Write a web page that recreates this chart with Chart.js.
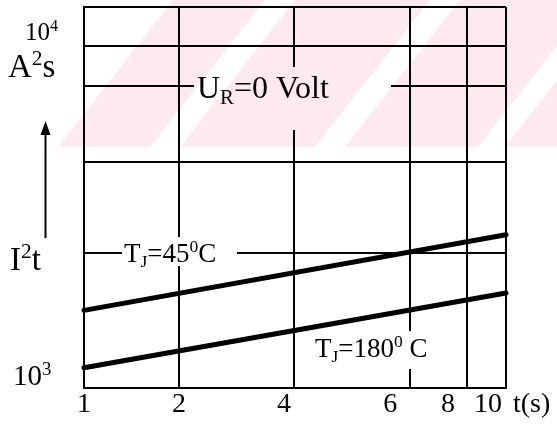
<!DOCTYPE html>
<html>
<head>
<meta charset="utf-8">
<script src="https://cdn.jsdelivr.net/npm/chart.js@4/dist/chart.umd.min.js"></script>
<style>
  html, body { margin: 0; padding: 0; background: #fff; }
  #wrap { width: 557px; height: 430px; }
</style>
</head>
<body>
<div id="wrap"><canvas id="i2tChart" width="557" height="430"></canvas></div>
<script>
// time axis (s) and I²t values (A²s)
const tValues = [1, 10];
const i2tTj45 = [1490, 2300];
const i2tTj180 = [1110, 1630];

// grid lines on both axes
const tTicks = [1, 2, 4, 6, 8, 10];
const i2tTicks = [1000, 2000, 4000, 6000, 8000, 10000];
const tLabels = ['1', '2', '4', '6', '8', '10'];

const SERIF = '"Liberation Serif", "Times New Roman", serif';

// scale whose grid divisions sit at hand-set fractions of the axis,
// log-interpolated between them (the printed sheet is not a true log grid)
class KnotScale extends Chart.LinearScale {
  buildTicks() {
    return this.options.knots.map(v => ({ value: v }));
  }
  _frac(v) {
    const k = this.options.knots, f = this.options.stops;
    let i = 0;
    while (i < k.length - 2 && v > k[i + 1]) i++;
    const t = (Math.log(v) - Math.log(k[i])) / (Math.log(k[i + 1]) - Math.log(k[i]));
    return f[i] + t * (f[i + 1] - f[i]);
  }
  getPixelForValue(v) {
    return v === null ? NaN : this.getPixelForDecimal(this._frac(v));
  }
  getValueForPixel(p) {
    const d = this.getDecimalForPixel(p);
    const k = this.options.knots, f = this.options.stops;
    let i = 0;
    while (i < f.length - 2 && d > f[i + 1]) i++;
    const t = (d - f[i]) / (f[i + 1] - f[i]);
    return Math.exp(Math.log(k[i]) + t * (Math.log(k[i + 1]) - Math.log(k[i])));
  }
}
KnotScale.id = 'knot';
KnotScale.defaults = Chart.LinearScale.defaults;
Chart.register(KnotScale);

// superscript / subscript text runs
function drawRich(ctx, x, y, parts, size) {
  let cx = x;
  for (const [txt, kind] of parts) {
    const s = kind ? size * 0.65 : size;
    ctx.font = s + 'px ' + SERIF;
    const dy = kind === 'sup' ? -size * 0.36 : kind === 'sub' ? size * 0.2 : 0;
    ctx.fillText(txt, cx, y + dy);
    cx += ctx.measureText(txt).width;
  }
}

const sheetDecor = {
  id: 'sheetDecor',
  beforeDraw(chart) {
    const ctx = chart.ctx;
    ctx.save();
    ctx.fillStyle = '#fff';
    ctx.fillRect(0, 0, chart.width, chart.height);
    ctx.restore();
  },
  afterDraw(chart) {
    const ctx = chart.ctx;
    const xs = chart.scales.x;
    ctx.save();

    // gaps in the grid behind the labels
    ctx.fillStyle = '#fff';
    ctx.fillRect(194, 67, 197, 63);
    ctx.fillRect(122, 237, 115, 29);
    ctx.fillRect(312, 331, 120, 38);

    ctx.fillStyle = '#000';
    ctx.textBaseline = 'alphabetic';
    ctx.textAlign = 'left';
    drawRich(ctx, 197, 98, [['U'], ['R', 'sub'], ['=0 Volt']], 32);
    drawRich(ctx, 124, 262, [['T'], ['J', 'sub'], ['=45'], ['0', 'sup'], ['C']], 27);
    drawRich(ctx, 315, 357, [['T'], ['J', 'sub'], ['=180'], ['0', 'sup'], [' C']], 27);

    // y axis labels
    drawRich(ctx, 25, 40, [['10'], ['4', 'sup']], 25);
    drawRich(ctx, 13, 385, [['10'], ['3', 'sup']], 29);
    drawRich(ctx, 8, 77, [['A'], ['2', 'sup'], ['s']], 33);
    drawRich(ctx, 10, 270, [['I'], ['2', 'sup'], ['t']], 33);

    // x axis labels
    const nudge = [0, 0, -10, -20, -19, -18];
    ctx.font = '28px ' + SERIF;
    ctx.textAlign = 'center';
    tTicks.forEach((v, i) => {
      ctx.fillText(tLabels[i], xs.getPixelForValue(v) + nudge[i], 412);
    });
    ctx.textAlign = 'left';
    ctx.fillText('t(s)', 513, 412);

    // rising arrow
    ctx.strokeStyle = '#000';
    ctx.lineWidth = 2;
    ctx.beginPath();
    ctx.moveTo(45.5, 132);
    ctx.lineTo(45.5, 238);
    ctx.stroke();
    ctx.beginPath();
    ctx.moveTo(45.5, 121);
    ctx.lineTo(40.5, 135);
    ctx.lineTo(50.5, 135);
    ctx.closePath();
    ctx.fill();

    // faint striped stamp across the top band
    ctx.beginPath();
    ctx.rect(0, 0, chart.width, 147);
    ctx.clip();
    ctx.globalCompositeOperation = 'multiply';
    ctx.fillStyle = 'rgb(253,234,238)';
    const shift = 115;
    [[58, 150], [180, 315], [345, 478], [505, 800]].forEach(([u0, u1]) => {
      ctx.beginPath();
      ctx.moveTo(u0, 147);
      ctx.lineTo(u1, 147);
      ctx.lineTo(u1 + shift, 0);
      ctx.lineTo(u0 + shift, 0);
      ctx.closePath();
      ctx.fill();
    });
    ctx.restore();
  }
};

const gridOpts = { color: '#000', lineWidth: 2, drawTicks: false };
const borderOpts = { display: true, color: '#000', width: 2 };

new Chart(document.getElementById('i2tChart').getContext('2d'), {
  type: 'line',
  data: {
    labels: tValues,
    datasets: [
      {
        label: 'Tj=45°C',
        data: tValues.map((t, i) => ({ x: t, y: i2tTj45[i] })),
        borderColor: '#000',
        borderWidth: 5,
        borderCapStyle: 'round',
        pointRadius: 0,
        clip: false
      },
      {
        label: 'Tj=180°C',
        data: tValues.map((t, i) => ({ x: t, y: i2tTj180[i] })),
        borderColor: '#000',
        borderWidth: 5,
        borderCapStyle: 'round',
        pointRadius: 0,
        clip: false
      }
    ]
  },
  options: {
    responsive: false,
    animation: false,
    events: [],
    layout: { padding: { left: 84, top: 7, right: 51, bottom: 42 } },
    plugins: {
      legend: { display: false },
      tooltip: { enabled: false }
    },
    scales: {
      x: {
        type: 'knot',
        min: 1,
        max: 10,
        knots: tTicks,
        stops: [0, 0.225, 0.4976, 0.773, 0.9076, 1],
        grid: gridOpts,
        border: borderOpts,
        ticks: { display: false }
      },
      y: {
        type: 'knot',
        min: 1000,
        max: 10000,
        knots: i2tTicks,
        stops: [0, 0.354, 0.593, 0.793, 0.898, 1],
        grid: gridOpts,
        border: borderOpts,
        ticks: { display: false }
      }
    }
  },
  plugins: [sheetDecor]
});
</script>
</body>
</html>
